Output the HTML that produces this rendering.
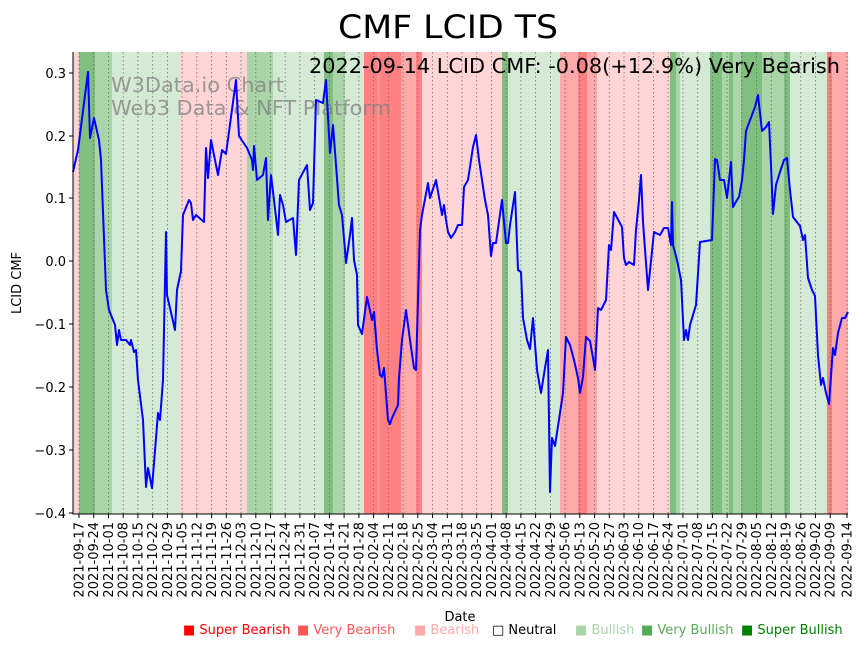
<!DOCTYPE html>
<html><head><meta charset="utf-8"><style>
html,body{margin:0;padding:0;background:#fff}
svg{display:block;font-family:"DejaVu Sans","Liberation Sans",sans-serif}
</style></head><body>
<svg width="867" height="646" viewBox="0 0 867 646" xmlns="http://www.w3.org/2000/svg">
<rect width="867" height="646" fill="#fff"/>
<g shape-rendering="crispEdges">
<rect x="73" y="52" width="6" height="462" fill="#ffd5d5"/>
<rect x="79" y="52" width="16" height="462" fill="#80bf80"/>
<rect x="95" y="52" width="17" height="462" fill="#a9d5a9"/>
<rect x="112" y="52" width="68" height="462" fill="#d4ead4"/>
<rect x="180" y="52" width="67" height="462" fill="#ffd5d5"/>
<rect x="247" y="52" width="26" height="462" fill="#a9d5a9"/>
<rect x="273" y="52" width="51" height="462" fill="#d4ead4"/>
<rect x="324" y="52" width="9" height="462" fill="#80bf80"/>
<rect x="333" y="52" width="12" height="462" fill="#a9d5a9"/>
<rect x="345" y="52" width="19" height="462" fill="#d4ead4"/>
<rect x="364" y="52" width="37" height="462" fill="#ff8080"/>
<rect x="377" y="52" width="3" height="462" fill="#ff9090"/>
<rect x="401" y="52" width="15" height="462" fill="#ffaaaa"/>
<rect x="416" y="52" width="6" height="462" fill="#ff8080"/>
<rect x="422" y="52" width="80" height="462" fill="#ffd5d5"/>
<rect x="502" y="52" width="6" height="462" fill="#80bf80"/>
<rect x="508" y="52" width="52" height="462" fill="#d4ead4"/>
<rect x="560" y="52" width="18" height="462" fill="#ffaaaa"/>
<rect x="578" y="52" width="9" height="462" fill="#ff8080"/>
<rect x="587" y="52" width="10" height="462" fill="#ffaaaa"/>
<rect x="597" y="52" width="73" height="462" fill="#ffd5d5"/>
<rect x="670" y="52" width="6" height="462" fill="#80bf80"/>
<rect x="676" y="52" width="4" height="462" fill="#a9d5a9"/>
<rect x="680" y="52" width="30" height="462" fill="#d4ead4"/>
<rect x="710" y="52" width="12" height="462" fill="#80bf80"/>
<rect x="722" y="52" width="7" height="462" fill="#a9d5a9"/>
<rect x="729" y="52" width="4" height="462" fill="#80bf80"/>
<rect x="733" y="52" width="8" height="462" fill="#a9d5a9"/>
<rect x="741" y="52" width="21" height="462" fill="#80bf80"/>
<rect x="762" y="52" width="22" height="462" fill="#a9d5a9"/>
<rect x="784" y="52" width="6" height="462" fill="#80bf80"/>
<rect x="790" y="52" width="37" height="462" fill="#d4ead4"/>
<rect x="827" y="52" width="5" height="462" fill="#ff8080"/>
<rect x="832" y="52" width="16" height="462" fill="#ffaaaa"/>
</g>
<g stroke="#555" stroke-width="0.8" stroke-dasharray="1.5,2.5" opacity="0.8">
<path d="M79 52V514M93.7 52V514M108.5 52V514M123.2 52V514M137.9 52V514M152.7 52V514M167.4 52V514M182.1 52V514M196.8 52V514M211.6 52V514M226.3 52V514M241 52V514M255.8 52V514M270.5 52V514M285.2 52V514M299.9 52V514M314.7 52V514M329.4 52V514M344.1 52V514M358.9 52V514M373.6 52V514M388.3 52V514M403.1 52V514M417.8 52V514M432.5 52V514M447.3 52V514M462 52V514M476.7 52V514M491.4 52V514M506.2 52V514M520.9 52V514M535.6 52V514M550.4 52V514M565.1 52V514M579.8 52V514M594.6 52V514M609.3 52V514M624 52V514M638.7 52V514M653.5 52V514M668.2 52V514M682.9 52V514M697.7 52V514M712.4 52V514M727.1 52V514M741.9 52V514M756.6 52V514M771.3 52V514M786 52V514M800.8 52V514M815.5 52V514M830.2 52V514M847 52V514"/>
</g>
<text x="111" y="92" font-size="20.5" fill="#808080" opacity="0.75" textLength="173" lengthAdjust="spacingAndGlyphs">W3Data.io Chart</text>
<text x="111" y="115" font-size="20.5" fill="#808080" opacity="0.75" textLength="280" lengthAdjust="spacingAndGlyphs">Web3 Data &amp; NFT Platform</text>
<polyline fill="none" stroke="#0000ff" stroke-width="2" stroke-linejoin="round" points="73,172 78,150 88,72 90,138 94,118 99,140 101,160 106,290 109,310 115,325 117,345 119,330 121,340 126,340 130,345 131,340 134,352 136,350 138,380 143,420 146,487 148,468 152,488 158,413 160,420 163,380 166,232 167,295 175,330 177,290 181,271 183,215 189,200 191,203 193,220 196,215 204,222 206,148 208,178 211,140 218,175 222,150 226,154 236,80 239,136 247,148 252,160 253,170 254,146 257,180 263,175 266,158 268,220 271,175 274,200 278,235 280,195 283,205 286,222 293,218 296,255 299,180 307,165 310,210 313,203 316,100 323,103 326,80 330,153 333,125 336,165 339,205 342,215 345,250 346,263 350,235 352,218 354,260 357,275 358,325 362,334 367,297 372,320 374,312 377,350 380,375 382,377 384,368 388,420 390,424 392,418 398,405 399,378 402,340 406,310 410,340 414,368 416,370 420,230 422,215 428,183 430,198 436,180 442,215 444,205 446,220 448,232 451,238 455,232 458,225 462,225 464,187 468,180 473,147 476,135 479,160 485,200 488,215 491,256 493,243 496,243 502,200 506,243 508,243 510,225 515,192 518,270 521,272 523,318 527,340 530,349 533,318 537,370 541,393 545,368 548,350 550,492 552,438 555,446 563,393 566,337 570,345 574,360 578,378 580,393 583,377 586,337 590,341 593,358 595,370 598,308 601,310 606,300 609,245 611,250 614,212 622,227 624,258 626,265 629,262 634,265 636,230 639,200 641,175 643,222 648,290 654,232 660,235 664,228 668,228 671,245 672,202 673,245 677,260 681,280 684,340 686,330 688,340 690,325 696,305 700,242 706,241 712,240 715,159 717,160 720,180 724,180 727,198 731,162 733,207 737,200 739,197 742,180 744,160 746,131 752,115 755,107 758,95 762,131 766,127 769,122 771,165 773,214 776,185 780,172 784,160 787,158 790,190 793,217 800,226 803,240 805,235 808,278 812,290 815,296 818,355 821,385 823,378 826,393 829,404 833,348 835,355 838,333 842,318 845,318 848,312"/>
<text x="309" y="73" font-size="20" fill="#000" textLength="531" lengthAdjust="spacingAndGlyphs">2022-09-14 LCID CMF: -0.08(+12.9%) Very Bearish</text>
<path d="M73 52V514H848" fill="none" stroke="#000" stroke-width="1"/>
<g stroke="#000" stroke-width="1">
<path d="M69 73H73M69 136H73M69 198H73M69 261H73M69 324H73M69 387H73M69 450H73M69 513H73"/>
</g>
<g font-size="13" text-anchor="end" fill="#000">
<text x="66" y="78">0.3</text><text x="66" y="141">0.2</text><text x="66" y="203">0.1</text><text x="66" y="266">0.0</text><text x="66" y="329">−0.1</text><text x="66" y="392">−0.2</text><text x="66" y="455">−0.3</text><text x="66" y="518">−0.4</text>
</g>
<text transform="translate(21,283) rotate(-90)" font-size="13" text-anchor="middle">LCID CMF</text>
<g stroke="#000" stroke-width="1">
<path d="M79 514v4M93.7 514v4M108.5 514v4M123.2 514v4M137.9 514v4M152.7 514v4M167.4 514v4M182.1 514v4M196.8 514v4M211.6 514v4M226.3 514v4M241 514v4M255.8 514v4M270.5 514v4M285.2 514v4M299.9 514v4M314.7 514v4M329.4 514v4M344.1 514v4M358.9 514v4M373.6 514v4M388.3 514v4M403.1 514v4M417.8 514v4M432.5 514v4M447.3 514v4M462 514v4M476.7 514v4M491.4 514v4M506.2 514v4M520.9 514v4M535.6 514v4M550.4 514v4M565.1 514v4M579.8 514v4M594.6 514v4M609.3 514v4M624 514v4M638.7 514v4M653.5 514v4M668.2 514v4M682.9 514v4M697.7 514v4M712.4 514v4M727.1 514v4M741.9 514v4M756.6 514v4M771.3 514v4M786 514v4M800.8 514v4M815.5 514v4M830.2 514v4M847 514v4"/>
</g>
<g font-size="13" text-anchor="end" fill="#000">
<text transform="translate(83.5,522) rotate(-90)">2021-09-17</text>
<text transform="translate(98.2,522) rotate(-90)">2021-09-24</text>
<text transform="translate(113,522) rotate(-90)">2021-10-01</text>
<text transform="translate(127.7,522) rotate(-90)">2021-10-08</text>
<text transform="translate(142.4,522) rotate(-90)">2021-10-15</text>
<text transform="translate(157.2,522) rotate(-90)">2021-10-22</text>
<text transform="translate(171.9,522) rotate(-90)">2021-10-29</text>
<text transform="translate(186.6,522) rotate(-90)">2021-11-05</text>
<text transform="translate(201.3,522) rotate(-90)">2021-11-12</text>
<text transform="translate(216.1,522) rotate(-90)">2021-11-19</text>
<text transform="translate(230.8,522) rotate(-90)">2021-11-26</text>
<text transform="translate(245.5,522) rotate(-90)">2021-12-03</text>
<text transform="translate(260.3,522) rotate(-90)">2021-12-10</text>
<text transform="translate(275,522) rotate(-90)">2021-12-17</text>
<text transform="translate(289.7,522) rotate(-90)">2021-12-24</text>
<text transform="translate(304.4,522) rotate(-90)">2021-12-31</text>
<text transform="translate(319.2,522) rotate(-90)">2022-01-07</text>
<text transform="translate(333.9,522) rotate(-90)">2022-01-14</text>
<text transform="translate(348.6,522) rotate(-90)">2022-01-21</text>
<text transform="translate(363.4,522) rotate(-90)">2022-01-28</text>
<text transform="translate(378.1,522) rotate(-90)">2022-02-04</text>
<text transform="translate(392.8,522) rotate(-90)">2022-02-11</text>
<text transform="translate(407.6,522) rotate(-90)">2022-02-18</text>
<text transform="translate(422.3,522) rotate(-90)">2022-02-25</text>
<text transform="translate(437,522) rotate(-90)">2022-03-04</text>
<text transform="translate(451.8,522) rotate(-90)">2022-03-11</text>
<text transform="translate(466.5,522) rotate(-90)">2022-03-18</text>
<text transform="translate(481.2,522) rotate(-90)">2022-03-25</text>
<text transform="translate(495.9,522) rotate(-90)">2022-04-01</text>
<text transform="translate(510.7,522) rotate(-90)">2022-04-08</text>
<text transform="translate(525.4,522) rotate(-90)">2022-04-15</text>
<text transform="translate(540.1,522) rotate(-90)">2022-04-22</text>
<text transform="translate(554.9,522) rotate(-90)">2022-04-29</text>
<text transform="translate(569.6,522) rotate(-90)">2022-05-06</text>
<text transform="translate(584.3,522) rotate(-90)">2022-05-13</text>
<text transform="translate(599.1,522) rotate(-90)">2022-05-20</text>
<text transform="translate(613.8,522) rotate(-90)">2022-05-27</text>
<text transform="translate(628.5,522) rotate(-90)">2022-06-03</text>
<text transform="translate(643.2,522) rotate(-90)">2022-06-10</text>
<text transform="translate(658,522) rotate(-90)">2022-06-17</text>
<text transform="translate(672.7,522) rotate(-90)">2022-06-24</text>
<text transform="translate(687.4,522) rotate(-90)">2022-07-01</text>
<text transform="translate(702.2,522) rotate(-90)">2022-07-08</text>
<text transform="translate(716.9,522) rotate(-90)">2022-07-15</text>
<text transform="translate(731.6,522) rotate(-90)">2022-07-22</text>
<text transform="translate(746.4,522) rotate(-90)">2022-07-29</text>
<text transform="translate(761.1,522) rotate(-90)">2022-08-05</text>
<text transform="translate(775.8,522) rotate(-90)">2022-08-12</text>
<text transform="translate(790.5,522) rotate(-90)">2022-08-19</text>
<text transform="translate(805.3,522) rotate(-90)">2022-08-26</text>
<text transform="translate(820,522) rotate(-90)">2022-09-02</text>
<text transform="translate(834.7,522) rotate(-90)">2022-09-09</text>
<text transform="translate(851.5,522) rotate(-90)">2022-09-14</text>
</g>
<text x="460" y="621" font-size="13" text-anchor="middle">Date</text>
<text x="448" y="38" font-size="32" text-anchor="middle" textLength="220" lengthAdjust="spacingAndGlyphs">CMF LCID TS</text>
<g font-size="13">
<text x="183" y="634" fill="#ff0000">■ Super Bearish</text>
<text x="297" y="634" fill="#ff5555">■ Very Bearish</text>
<text x="414" y="634" fill="#ffaaaa">■ Bearish</text>
<text x="492" y="634" fill="#000">□ Neutral</text>
<text x="575" y="634" fill="#aad4aa">■ Bullish</text>
<text x="641" y="634" fill="#55aa55">■ Very Bullish</text>
<text x="741" y="634" fill="#008000">■ Super Bullish</text>
</g>
</svg>
</body></html>
